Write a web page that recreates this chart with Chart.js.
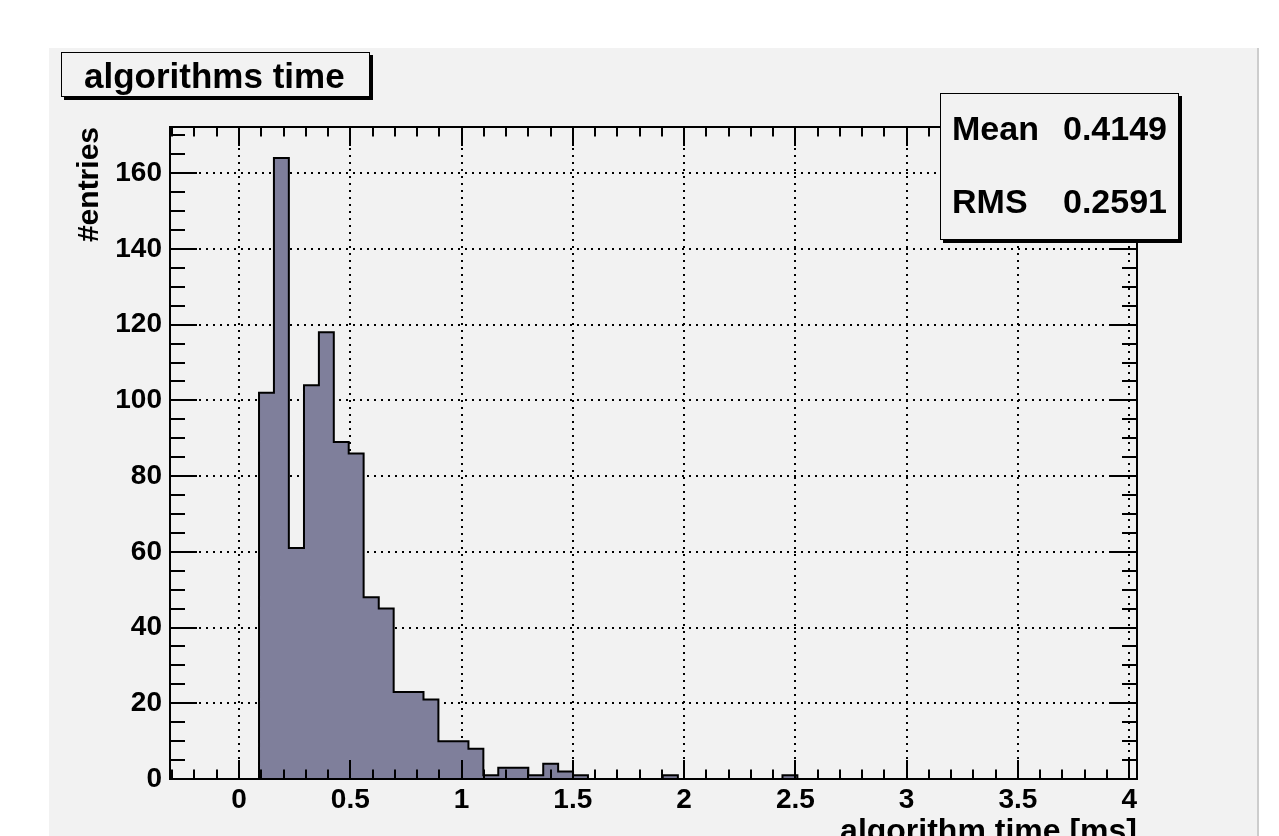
<!DOCTYPE html>
<html>
<head>
<meta charset="utf-8">
<script src="https://cdn.jsdelivr.net/npm/chart.js@4.4.1/dist/chart.umd.min.js"></script>
<style>
  html, body { margin: 0; padding: 0; background: #fff; }
  canvas { display: block; }
</style>
</head>
<body>
<canvas id="myChart" width="1279" height="836"></canvas>
<script>
// left edges of the bins [ms], last value closes the final bin
const binEdges = [0.090, 0.157, 0.224, 0.292, 0.359, 0.426, 0.493, 0.560, 0.628, 0.695,
    0.762, 0.829, 0.896, 0.964, 1.031, 1.098, 1.165, 1.232, 1.300, 1.367,
    1.434, 1.501, 1.568, 1.636, 1.703, 1.770, 1.837, 1.904, 1.972, 2.039,
    2.106, 2.173, 2.240, 2.308, 2.375, 2.442, 2.509];
// entries per bin
const counts = [102, 164, 61, 104, 118, 89, 86, 48, 45, 23,
    23, 21, 10, 10, 8, 1, 3, 3, 1, 4,
    2, 1, 0, 0, 0, 0, 0, 1, 0, 0,
    0, 0, 0, 0, 0, 1];

const xTicks = [0, 0.5, 1, 1.5, 2, 2.5, 3, 3.5, 4];
const xTickLabels = ['0', '0.5', '1', '1.5', '2', '2.5', '3', '3.5', '4'];
const yTicks = [0, 20, 40, 60, 80, 100, 120, 140, 160];
const yTickLabels = ['0', '20', '40', '60', '80', '100', '120', '140', '160'];

const histTitle = 'algorithms time';
const statNames = ['Mean', 'RMS'];
const statValues = ['0.4149', '0.2591'];

const FONT = '"Liberation Sans", Arial, Helvetica, sans-serif';

// outline points of the histogram (step drawn by the line element)
const points = [{x: binEdges[0], y: 0}];
counts.forEach((c, i) => points.push({x: binEdges[i], y: c}));
points.push({x: binEdges[binEdges.length - 1], y: 0});

function paveBox(ctx, x1, y1, x2, y2) {
    ctx.fillStyle = '#000';
    ctx.fillRect(x1 + 3, y1 + 3, x2 - x1, y2 - y1);
    ctx.fillStyle = '#f2f2f2';
    ctx.fillRect(x1, y1, x2 - x1, y2 - y1);
    ctx.strokeStyle = '#000';
    ctx.lineWidth = 1;
    ctx.strokeRect(x1 + 0.5, y1 + 0.5, x2 - x1 - 1, y2 - y1 - 1);
}

const rootPad = {
    id: 'rootPad',
    beforeDraw(chart) {
        const ctx = chart.ctx;
        ctx.save();
        ctx.fillStyle = '#fff';
        ctx.fillRect(0, 0, chart.width, chart.height);
        ctx.fillStyle = '#f2f2f2';
        ctx.fillRect(49, 48, 1209, 788);
        ctx.fillStyle = '#cdcdcd';
        ctx.fillRect(1257, 48, 2, 788);
        ctx.restore();
    },
    afterDatasetsDraw(chart) {
        const {ctx, chartArea: a, scales: {x, y}} = chart;
        ctx.save();
        ctx.strokeStyle = '#000';
        ctx.lineWidth = 2;
        ctx.beginPath();
        // x ticks, every 0.1, pointing inside on bottom and top
        for (let i = -3; i <= 40; i++) {
            const px = Math.round(x.getPixelForValue(i / 10));
            const len = i % 5 === 0 ? 19 : 9.5;
            ctx.moveTo(px, a.bottom); ctx.lineTo(px, a.bottom - len);
            ctx.moveTo(px, a.top); ctx.lineTo(px, a.top + len);
        }
        // y ticks, every 5, on left and right
        for (let i = 0; i <= 34; i++) {
            const py = Math.round(y.getPixelForValue(i * 5));
            const len = (i * 5) % 20 === 0 ? 27 : 15;
            ctx.moveTo(a.left, py); ctx.lineTo(a.left + len, py);
            ctx.moveTo(a.right, py); ctx.lineTo(a.right - len, py);
        }
        ctx.stroke();
        ctx.strokeRect(a.left, a.top, a.right - a.left, a.bottom - a.top);
        ctx.restore();
    },
    afterDraw(chart) {
        const ctx = chart.ctx;
        ctx.save();
        // title pave
        paveBox(ctx, 61, 52, 370, 97);
        ctx.fillStyle = '#000';
        ctx.font = 'bold 35px ' + FONT;
        ctx.textBaseline = 'alphabetic';
        ctx.textAlign = 'left';
        ctx.fillText(histTitle, 84, 88);
        // stats pave
        paveBox(ctx, 940, 93, 1179, 240);
        ctx.fillStyle = '#000';
        ctx.font = 'bold 34px ' + FONT;
        const base = [140, 213];
        statNames.forEach((n, i) => {
            ctx.textAlign = 'left';
            ctx.fillText(n, 952, base[i]);
            ctx.textAlign = 'right';
            ctx.fillText(statValues[i], 1167, base[i]);
        });
        ctx.restore();
    }
};

const ctx = document.getElementById('myChart');

new Chart(ctx, {
    type: 'line',
    data: {
        datasets: [{
            label: histTitle,
            data: points,
            stepped: 'before',
            fill: 'origin',
            backgroundColor: 'rgb(127, 127, 155)',
            borderColor: '#000',
            borderWidth: 2,
            pointRadius: 0,
            tension: 0
        }]
    },
    options: {
        responsive: false,
        animation: false,
        devicePixelRatio: 1,
        layout: {
            padding: {left: 0, top: 127, right: 142, bottom: 0}
        },
        plugins: {
            legend: {display: false},
            tooltip: {enabled: false}
        },
        scales: {
            x: {
                type: 'linear',
                min: -0.31,
                max: 4.035,
                afterBuildTicks: s => { s.ticks = xTicks.map(v => ({value: v})); },
                afterFit: s => { s.height = 57; },
                ticks: {
                    callback: (v, i) => xTickLabels[i],
                    font: {family: FONT, size: 28, weight: 'bold'},
                    color: '#000',
                    padding: 4,
                    maxRotation: 0,
                    autoSkip: false
                },
                grid: {color: '#000', lineWidth: 2, drawTicks: false},
                border: {display: true, color: '#000', width: 2, dash: [2, 5]},
                title: {
                    display: true,
                    text: 'algorithm time [ms]',
                    align: 'end',
                    color: '#000',
                    font: {family: FONT, size: 32, weight: 'bold'},
                    padding: {top: 0, bottom: -15}
                }
            },
            y: {
                min: 0,
                max: 172.2,
                afterBuildTicks: s => { s.ticks = yTicks.map(v => ({value: v})); },
                afterFit: s => { s.width = 170; },
                ticks: {
                    callback: (v, i) => yTickLabels[i],
                    font: {family: FONT, size: 28, weight: 'bold'},
                    color: '#000',
                    padding: 8
                },
                grid: {color: '#000', lineWidth: 2, drawTicks: false},
                border: {display: true, color: '#000', width: 2, dash: [2, 5]},
                title: {
                    display: true,
                    text: '#entries',
                    align: 'end',
                    color: '#000',
                    font: {family: FONT, size: 30, weight: 'bold'},
                    padding: {top: 71.5, bottom: 0}
                }
            }
        }
    },
    plugins: [rootPad]
});
</script>
</body>
</html>
